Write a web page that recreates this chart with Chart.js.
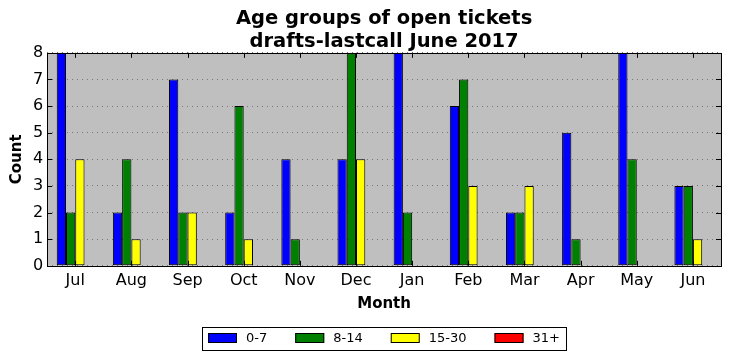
<!DOCTYPE html>
<html>
<head>
<meta charset="utf-8">
<script src="https://cdn.jsdelivr.net/npm/chart.js@4.4.0/dist/chart.umd.min.js"></script>
<style>
  html, body { margin: 0; padding: 0; background: #fff; }
  #wrap { width: 731px; height: 361px; }
</style>
</head>
<body>
<div id="wrap"><canvas id="grafico"></canvas></div>
<script>
const meses = ['Jul', 'Aug', 'Sep', 'Oct', 'Nov', 'Dec', 'Jan', 'Feb', 'Mar', 'Apr', 'May', 'Jun']
const grupo0a7 = [8, 2, 7, 2, 4, 4, 8, 6, 2, 5, 8, 3]
const grupo8a14 = [2, 4, 2, 6, 1, 8, 2, 7, 2, 1, 4, 3]
const grupo15a30 = [4, 1, 2, 1, 0, 4, 0, 3, 3, 0, 0, 1]
const grupo31mais = [0, 0, 0, 0, 0, 0, 0, 0, 0, 0, 0, 0]
const yTicks = [0, 1, 2, 3, 4, 5, 6, 7, 8]

Chart.defaults.font.family = "'DejaVu Sans', sans-serif"
Chart.defaults.color = '#000'

// fundo cinza, moldura, ticks para dentro e legenda com caixa (estilo matplotlib)
const estiloAxes = {
    id: 'estiloAxes',
    beforeDraw(chart) {
        const { ctx, chartArea: a } = chart
        ctx.save()
        ctx.fillStyle = '#bfbfbf'
        ctx.fillRect(a.left, a.top, a.right - a.left, a.bottom - a.top)
        ctx.restore()
    },
    afterDraw(chart) {
        const { ctx, chartArea: a } = chart
        const x = chart.scales.x
        const y = chart.scales.y
        ctx.save()
        ctx.strokeStyle = '#000'
        ctx.lineWidth = 1
        ctx.beginPath()
        x.ticks.forEach((t, i) => {
            const px = Math.round(x.getPixelForTick(i)) + 0.5
            ctx.moveTo(px, a.bottom); ctx.lineTo(px, a.bottom - 5)
            ctx.moveTo(px, a.top); ctx.lineTo(px, a.top + 5)
        })
        y.ticks.forEach((t, i) => {
            const py = Math.round(y.getPixelForTick(i)) + 0.5
            ctx.moveTo(a.left, py); ctx.lineTo(a.left + 5, py)
            ctx.moveTo(a.right, py); ctx.lineTo(a.right - 5, py)
        })
        ctx.stroke()
        ctx.strokeRect(Math.round(a.left) + 0.5, Math.round(a.top) + 0.5,
            Math.round(a.right - a.left), Math.round(a.bottom - a.top))

        // legenda
        ctx.font = "13px 'DejaVu Sans', sans-serif"
        ctx.textBaseline = 'middle'
        const itens = chart.data.datasets.map(ds => ({
            label: ds.label,
            cor: ds.backgroundColor,
            w: 38 + ctx.measureText(ds.label).width
        }))
        const gap = 28
        const total = itens.reduce((s, it) => s + it.w, 0) + gap * (itens.length - 1)
        let cx = Math.round((a.left + a.right) / 2 - total / 2)
        const cy = 338
        ctx.strokeRect(cx - 6 + 0.5, cy - 11 + 0.5, Math.round(total + 12), 23)
        itens.forEach(it => {
            ctx.fillStyle = it.cor
            ctx.fillRect(cx, cy - 5, 29, 10)
            ctx.strokeRect(cx + 0.5, cy - 5 + 0.5, 28, 9)
            ctx.fillStyle = '#000'
            ctx.fillText(it.label, cx + 38, cy + 1)
            cx += it.w + gap
        })
        ctx.restore()
    }
}

function serie(label, data, cor) {
    return {
        label: label,
        data: data,
        backgroundColor: cor,
        borderColor: '#000',
        borderWidth: 1,
        borderSkipped: false,
        categoryPercentage: 0.66,
        barPercentage: 1.0
    }
}

let graficoIdades = new Chart(
    document.getElementById('grafico'),
    {
        type: 'bar',
        data: {
            labels: meses,
            datasets: [
                serie('0-7', grupo0a7, '#0000ff'),
                serie('8-14', grupo8a14, '#008000'),
                serie('15-30', grupo15a30, '#ffff00'),
                serie('31+', grupo31mais, '#ff0000')
            ]
        },
        options: {
            responsive: true,
            maintainAspectRatio: false,
            animation: false,
            layout: {
                padding: { left: 8, right: 10, top: 8, bottom: 48 }
            },
            plugins: {
                title: {
                    display: true,
                    fullSize: false,
                    text: ['Age groups of open tickets', 'drafts-lastcall June 2017'],
                    font: { size: 19.5, weight: 'bold', lineHeight: 1.15 },
                    padding: { top: 0, bottom: 0 }
                },
                legend: { display: false },
                tooltip: { enabled: false }
            },
            scales: {
                x: {
                    grid: { display: false, drawTicks: false },
                    border: { display: false },
                    ticks: { font: { size: 16 }, padding: 5, maxRotation: 0 },
                    title: { display: true, text: 'Month', font: { size: 15, weight: 'bold' }, padding: { top: 0, bottom: 0 } }
                },
                y: {
                    min: 0,
                    max: 8,
                    afterBuildTicks: axis => { axis.ticks = yTicks.map(v => ({ value: v })) },
                    grid: { color: '#777', lineWidth: 1, drawTicks: false },
                    border: { display: false, dash: [1, 4] },
                    ticks: { font: { size: 16 }, padding: 4 },
                    title: { display: true, text: 'Count', font: { size: 15, weight: 'bold' }, padding: { top: 0, bottom: 3 } }
                }
            }
        },
        plugins: [estiloAxes]
    }
)
</script>
</body>
</html>
